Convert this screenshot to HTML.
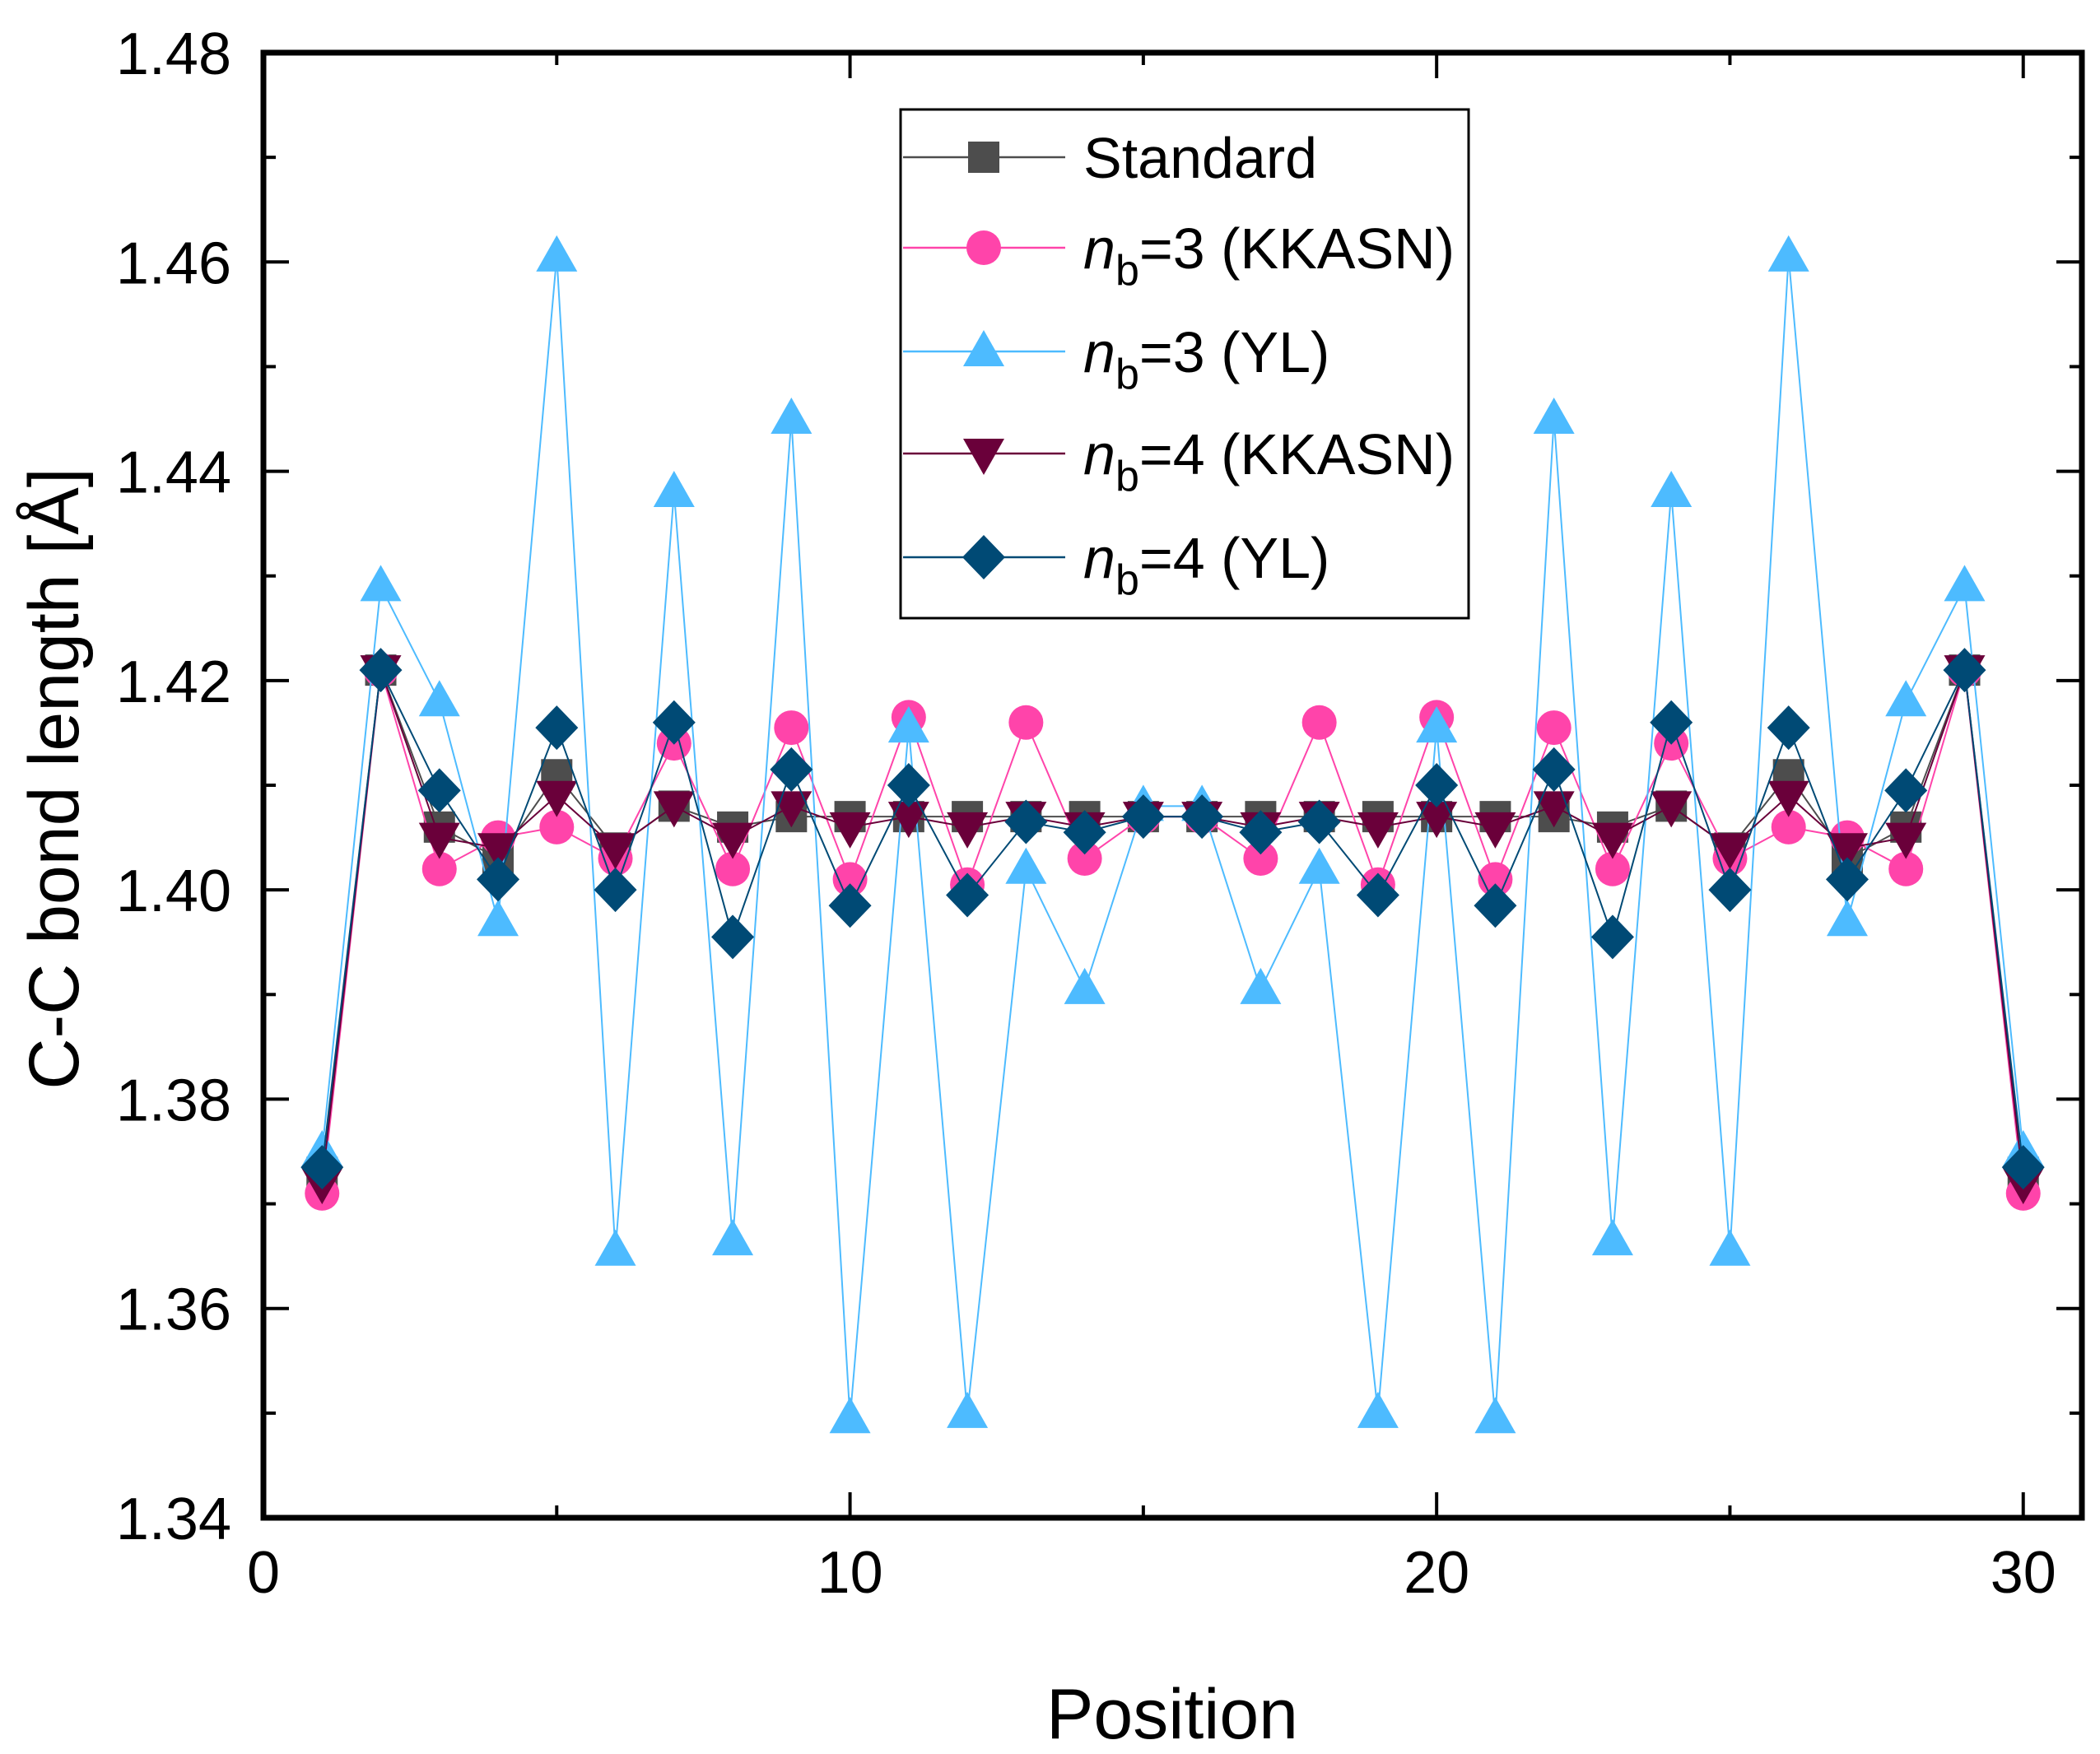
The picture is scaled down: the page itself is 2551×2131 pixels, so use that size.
<!DOCTYPE html>
<html><head><meta charset="utf-8"><style>
html,body{margin:0;padding:0;background:#fff;}
svg{display:block;font-family:"Liberation Sans","DejaVu Sans",sans-serif;}
</style></head><body>
<svg id="chart" width="2551" height="2131" viewBox="0 0 2551 2131" xmlns="http://www.w3.org/2000/svg">
<g id="grid-layer"></g>
<g id="series-layer"></g>
<g id="legend">
  <rect x="1094" y="133" width="690" height="618" fill="#fff" stroke="#000" stroke-width="3"/>
</g>
<text x="1424" y="2112" font-size="86" text-anchor="middle">Position</text>
<text transform="translate(95,946) rotate(-90)" font-size="86" text-anchor="middle">C-C bond length [Å]</text>
</svg>
<script>
const positions = [1,2,3,4,5,6,7,8,9,10,11,12,13,14,15,16,17,18,19,20,21,22,23,24,25,26,27,28,29,30];
const standardVals = [1.373,1.421,1.406,1.403,1.411,1.404,1.408,1.406,1.407,1.407,1.407,1.407,1.407,1.407,1.407,1.407,1.407,1.407,1.407,1.407,1.407,1.407,1.406,1.408,1.404,1.411,1.403,1.406,1.421,1.373];
const kkasn3Vals = [1.371,1.421,1.402,1.405,1.406,1.403,1.414,1.402,1.4155,1.401,1.4165,1.4005,1.416,1.403,1.407,1.407,1.403,1.416,1.4005,1.4165,1.401,1.4155,1.402,1.414,1.403,1.406,1.405,1.402,1.421,1.371];
const yl3Vals = [1.375,1.429,1.418,1.397,1.4605,1.3655,1.438,1.3665,1.445,1.3495,1.4155,1.350,1.402,1.3905,1.408,1.408,1.3905,1.402,1.350,1.4155,1.3495,1.445,1.3665,1.438,1.3655,1.4605,1.397,1.418,1.429,1.375];
const kkasn4Vals = [1.372,1.421,1.405,1.404,1.409,1.404,1.408,1.405,1.408,1.406,1.407,1.406,1.407,1.406,1.407,1.407,1.406,1.407,1.406,1.407,1.406,1.408,1.405,1.408,1.404,1.409,1.404,1.405,1.421,1.372];
const yl4Vals = [1.3735,1.421,1.4095,1.401,1.4155,1.400,1.416,1.3955,1.4115,1.3985,1.410,1.3995,1.4065,1.4055,1.407,1.407,1.4055,1.4065,1.3995,1.410,1.3985,1.4115,1.3955,1.416,1.400,1.4155,1.401,1.4095,1.421,1.3735];
const xTickLabels = ["0","10","20","30"];
const yTickLabels = ["1.34","1.36","1.38","1.40","1.42","1.44","1.46","1.48"];
const legendLabels = ["Standard","3 (KKASN)","3 (YL)","4 (KKASN)","4 (YL)"];

const NS="http://www.w3.org/2000/svg";
const L=320,R=2529,T=64,B=1844;
const xMin=0,xMax=31,yMin=1.34,yMax=1.48;
function xs(v){return L+(v-xMin)/(xMax-xMin)*(R-L);}
function ys(v){return B-(v-yMin)/(yMax-yMin)*(B-T);}
function mk(tag,attrs,parent){const e=document.createElementNS(NS,tag);for(const k in attrs)e.setAttribute(k,attrs[k]);parent.appendChild(e);return e;}

const axes=document.getElementById('grid-layer');
for(let i=0;i<=6;i++){
  const v=i*5, x=xs(v), len=(i%2===0)?31:15;
  const t1=mk('line',{x1:x,y1:B,x2:x,y2:B-len,stroke:'#000','stroke-width':4},axes);
  
  
  const t2=mk('line',{x1:x,y1:T,x2:x,y2:T+len,stroke:'#000','stroke-width':4},axes);
  
  
}
xTickLabels.forEach((s)=>{
  const t=mk('text',{x:xs(parseFloat(s)),y:1935,'font-size':72,'text-anchor':'middle'},axes);
  t.textContent=s;
  
  
});
for(let i=0;i<=14;i++){
  const v=yMin+i*0.01, y=ys(v), len=(i%2===0)?31:15;
  const t1=mk('line',{x1:L,y1:y,x2:L+len,y2:y,stroke:'#000','stroke-width':4},axes);
  
  
  const t2=mk('line',{x1:R,y1:y,x2:R-len,y2:y,stroke:'#000','stroke-width':4},axes);
  
  
}
yTickLabels.forEach((s)=>{
  const t=mk('text',{x:281,y:ys(parseFloat(s))+26,'font-size':72,'text-anchor':'end'},axes);
  t.textContent=s;
  
  
});
const frame=mk('rect',{x:L,y:T,width:R-L,height:B-T,fill:'none',stroke:'#000','stroke-width':7},axes);



function marker(shape,cx,cy,color,parent){
  let e;
  if(shape==='square') e=mk('rect',{x:cx-19,y:cy-19,width:38,height:38,fill:color},parent);
  else if(shape==='circle') e=mk('circle',{cx:cx,cy:cy,r:21,fill:color},parent);
  else if(shape==='up') e=mk('polygon',{points:`${cx},${cy-26} ${cx+25},${cy+18} ${cx-25},${cy+18}`,fill:color},parent);
  else if(shape==='down') e=mk('polygon',{points:`${cx},${cy+26} ${cx+25},${cy-18} ${cx-25},${cy-18}`,fill:color},parent);
  else e=mk('polygon',{points:`${cx},${cy-27} ${cx+26},${cy} ${cx},${cy+27} ${cx-26},${cy}`,fill:color},parent);
  return e;
}
const series=[
  {vals:standardVals,color:'#4d4d4d',shape:'square',name:'standard'},
  {vals:kkasn3Vals,color:'#ff44aa',shape:'circle',name:'nb3-kkasn'},
  {vals:yl3Vals,color:'#4dbbff',shape:'up',name:'nb3-yl'},
  {vals:kkasn4Vals,color:'#6a003a',shape:'down',name:'nb4-kkasn'},
  {vals:yl4Vals,color:'#004a75',shape:'diamond',name:'nb4-yl'}
];
const sl=document.getElementById('series-layer');
series.forEach(s=>{
  const g=mk('g',{},sl);
  
  
  const pts=positions.map((p,i)=>xs(p)+','+ys(s.vals[i])).join(' ');
  const pl=mk('polyline',{points:pts,fill:'none',stroke:s.color,'stroke-width':2},g);
  
  
  positions.forEach((p,i)=>{
    const m=marker(s.shape,xs(p),ys(s.vals[i]),s.color,g);
    
    
  });
});

const lg=document.getElementById('legend');
const rowsY=[191,301,427,551,677];
series.forEach((s,i)=>{
  const y=rowsY[i];
  const g=mk('g',{},lg);
  
  
  mk('line',{x1:1097,y1:y,x2:1294,y2:y,stroke:s.color,'stroke-width':2.5},g);
  marker(s.shape,1195,y,s.color,g);
  const t=mk('text',{x:1316,y:y+25,'font-size':70},g);
  if(i===0){t.textContent=legendLabels[0];}
  else{
    const a=document.createElementNS(NS,'tspan');a.setAttribute('font-style','italic');a.textContent='n';t.appendChild(a);
    const b=document.createElementNS(NS,'tspan');b.setAttribute('font-size','52');b.setAttribute('dy','20');b.textContent='b';t.appendChild(b);
    const c=document.createElementNS(NS,'tspan');c.setAttribute('dy','-20');c.textContent='='+legendLabels[i];t.appendChild(c);
  }
});
</script>
</body></html>
